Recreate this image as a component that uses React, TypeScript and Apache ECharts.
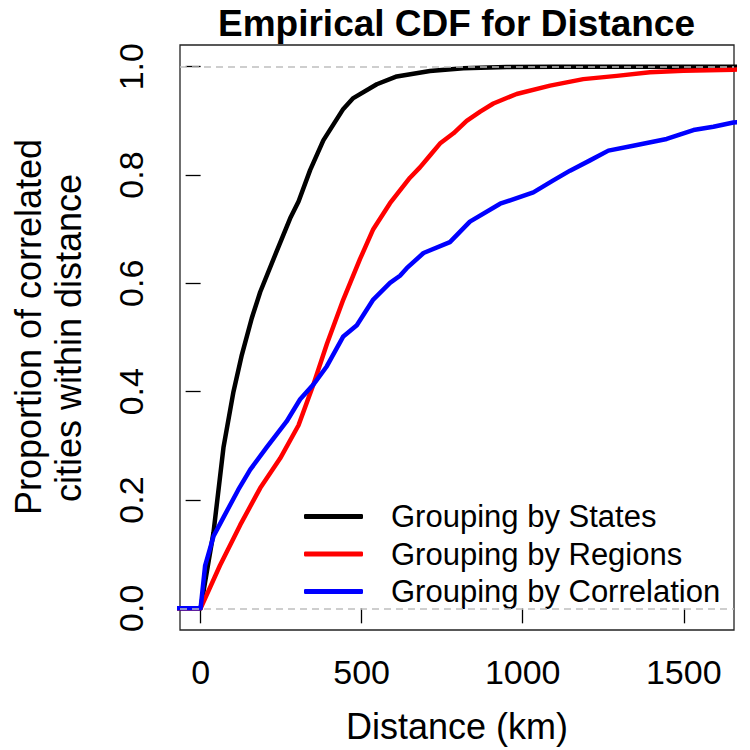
import { useEffect, useRef } from "react";
import * as echarts from "echarts";

// Empirical CDF curves: distance (km) vs. proportion of correlated cities within it
const statesKm = [-100, 0, 40, 71, 102, 128, 159, 185, 236, 278, 304, 340, 381, 443, 474, 547, 609, 712, 816, 950, 1100, 1700];
const statesProp = [0, 0, 0.14, 0.297, 0.4, 0.468, 0.536, 0.584, 0.659, 0.72, 0.751, 0.809, 0.864, 0.922, 0.942, 0.9675, 0.982, 0.992, 0.997, 0.9995, 1, 1];

const regionsKm = [-100, 0, 60, 123, 185, 247, 304, 350, 392, 443, 495, 536, 588, 650, 681, 712, 743, 785, 826, 868, 909, 981, 1085, 1188, 1292, 1395, 1499, 1654, 1700];
const regionsProp = [0, 0, 0.079, 0.154, 0.222, 0.277, 0.338, 0.413, 0.488, 0.57, 0.645, 0.7, 0.748, 0.795, 0.814, 0.836, 0.858, 0.877, 0.9, 0.917, 0.932, 0.9496, 0.965, 0.977, 0.983, 0.9896, 0.9926, 0.9945, 0.995];

const corrKm = [-100, 0, 14, 40, 71, 117, 154, 205, 267, 309, 350, 392, 443, 485, 536, 588, 619, 640, 692, 774, 836, 930, 1033, 1095, 1147, 1209, 1266, 1343, 1447, 1530, 1592, 1654, 1700];
const corrProp = [0, 0, 0.079, 0.133, 0.168, 0.219, 0.256, 0.297, 0.345, 0.386, 0.413, 0.447, 0.502, 0.5225, 0.57, 0.601, 0.614, 0.628, 0.656, 0.676, 0.714, 0.747, 0.768, 0.79, 0.808, 0.827, 0.845, 0.854, 0.8665, 0.883, 0.889, 0.897, 0.899];

const seriesNames = ["Grouping by States", "Grouping by Regions", "Grouping by Correlation"];
const seriesColors = ["#000000", "#ff0000", "#0000ff"];

const xTicks = [0, 500, 1000, 1500];
const yTicks = [0, 0.2, 0.4, 0.6, 0.8, 1.0];
const refLines = [0, 1];

const chartTitle = "Empirical CDF for Distance";
const xTitle = "Distance (km)";
const yTitleLines = ["Proportion of correlated", "cities within distance"];

const FONT = "'Liberation Sans', Arial, Helvetica, sans-serif";

function pairs(xs: number[], ys: number[]) {
  return xs.map((x, i) => [x, ys[i]]);
}

export default function App() {
  const ref = useRef<HTMLDivElement>(null);

  useEffect(() => {
    if (!ref.current) return;
    const chart = echarts.init(ref.current, null, { renderer: "svg" });
    const curves = [
      pairs(statesKm, statesProp),
      pairs(regionsKm, regionsProp),
      pairs(corrKm, corrProp),
    ];

    chart.setOption({
      animation: false,
      backgroundColor: "#ffffff",
      textStyle: { fontFamily: FONT },
      grid: {
        left: 180,
        right: 16,
        top: 45,
        bottom: 120,
        show: true,
        borderColor: "#222222",
        borderWidth: 1.3,
        backgroundColor: "transparent",
        containLabel: false,
        outerBoundsMode: "none",
      },
      xAxis: {
        type: "value",
        min: -64,
        max: 1656,
        axisLine: { show: false },
        axisTick: {
          show: true,
          inside: false,
          length: 15,
          customValues: xTicks,
          lineStyle: { color: "#000", width: 1.3 },
        },
        axisLabel: {
          customValues: xTicks,
          margin: 25,
          fontSize: 34,
          color: "#000",
          fontFamily: FONT,
          formatter: (v: number) => String(v),
        },
        splitLine: { show: false },
        name: xTitle,
        nameLocation: "middle",
        nameGap: 78,
        nameTextStyle: { fontSize: 36, color: "#000", fontFamily: FONT },
      },
      yAxis: {
        type: "value",
        min: -0.04,
        max: 1.04,
        axisLine: { show: false },
        axisTick: {
          show: true,
          inside: false,
          length: 15,
          customValues: yTicks,
          lineStyle: { color: "#000", width: 1.3 },
        },
        axisLabel: {
          customValues: yTicks,
          rotate: 90,
          margin: 32,
          fontSize: 34,
          color: "#000",
          fontFamily: FONT,
          formatter: (v: number) => v.toFixed(1),
        },
        splitLine: { show: false },
      },
      legend: {
        orient: "vertical",
        left: 304,
        top: 501,
        padding: 0,
        itemGap: 6.5,
        itemWidth: 59,
        itemHeight: 5,
        icon: "roundRect",
        selectedMode: false,
        data: seriesNames,
        textStyle: {
          fontSize: 31,
          color: "#000",
          fontFamily: FONT,
          padding: [0, 0, 0, 23],
        },
      },
      series: seriesNames.map((name, i) => ({
        name,
        type: "line",
        data: curves[i],
        symbol: "none",
        showSymbol: false,
        clip: true,
        color: seriesColors[i],
        lineStyle: { color: seriesColors[i], width: 4.5, cap: "round", join: "round" },
        z: 2 + i,
        markLine:
          i === seriesNames.length - 1
            ? {
                silent: true,
                symbol: "none",
                label: { show: false },
                lineStyle: { color: "#bebebe", type: [7, 5], width: 1.6 },
                data: refLines.map((v) => ({ yAxis: v })),
              }
            : undefined,
      })),
      graphic: [
        {
          type: "text",
          x: 456.5,
          y: 23,
          style: {
            text: chartTitle,
            fontSize: 37,
            fontWeight: "bold",
            fontFamily: FONT,
            fill: "#000",
            align: "center",
            verticalAlign: "middle",
          },
        },
        ...yTitleLines.map((line, i) => ({
          type: "text",
          x: 28.5 + i * 40,
          y: 327 + i * 11,
          rotation: Math.PI / 2,
          style: {
            text: line,
            fontSize: 36,
            fontFamily: FONT,
            fill: "#000",
            align: "center",
            verticalAlign: "middle",
          },
        })),
      ],
    });

    return () => chart.dispose();
  }, []);

  return (
    <div
      ref={ref}
      style={{ position: "fixed", left: 0, top: 0, width: 750, height: 750, background: "#fff" }}
    />
  );
}
